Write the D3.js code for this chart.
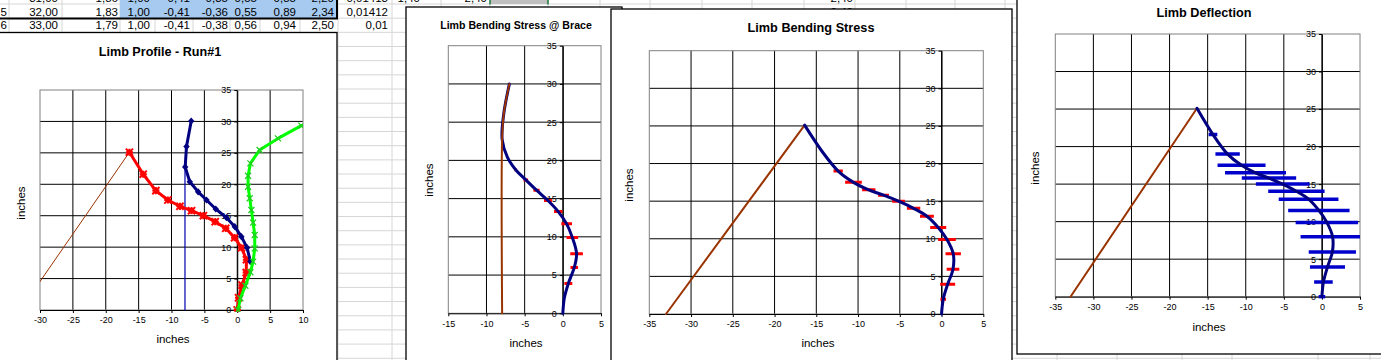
<!DOCTYPE html>
<html><head><meta charset="utf-8">
<script src="https://cdn.jsdelivr.net/npm/d3@7"></script>
<style>
body{margin:0;background:#fff;overflow:hidden}
svg{display:block}
text{font-family:Arial,"Liberation Sans",sans-serif}
</style></head>
<body><svg id="c" width="1381" height="360"></svg>
<script>
// ---------------- DATA ----------------
const yTicks = [0, 5, 10, 15, 20, 25, 30, 35];
const xTicksProfile = [-30, -25, -20, -15, -10, -5, 0, 5, 10];
const xTicksBrace = [-15, -10, -5, 0, 5];
const xTicksWide = [-35, -30, -25, -20, -15, -10, -5, 0, 5];

// limb at full draw (red in profile, navy curve in stress/deflection)
const limbY = [0, 1.95, 3.95, 5.95, 8.0, 9.9, 11.5, 13.0, 14.05, 15.0, 15.8, 16.5, 17.5, 19.0, 21.6, 25.1];
const limbX = [0, 0.2, 0.73, 1.37, 1.4, 0.65, -0.4, -1.75, -3.35, -5.15, -6.95, -8.72, -10.55, -12.38, -14.3, -16.4];
// limb at brace height
const bracedY = [0, 2, 3.9, 6, 7.8, 9.9, 11.7, 13.3, 14.75, 16.1, 17.45, 18.75, 20.4, 22.75, 26, 30];
const bracedX = [0, 0.2, 0.72, 1.5, 1.8, 1.25, 0.5, -0.6, -1.95, -3.45, -4.85, -6.15, -7.25, -7.95, -7.75, -7.0];
// braced limb as plotted in the profile chart (from the contact point up)
const profileBracedY = [7.7, 9.92, 11.67, 13.26, 14.7, 16.07, 17.5, 18.8, 20.4, 22.75, 26.0, 30.07];
const profileBracedX = [2.0, 1.49, 0.63, -0.38, -1.65, -3.27, -4.68, -5.95, -7.22, -7.92, -7.72, -7.0];
// unbraced limb
const unbracedY = [0, 1.86, 3.87, 6.0, 7.69, 9.81, 11.93, 13.9, 15.9, 17.77, 19.6, 21.37, 23.33, 25.45, 27.3, 29.33];
const unbracedX = [0.13, 0.48, 1.24, 2.0, 2.41, 2.66, 2.66, 2.41, 2.15, 1.9, 1.65, 1.65, 2.0, 3.4, 6.2, 9.75];
// string
const stringX = [-33, -16.4];
const stringY = [0, 25.1];
// brace line
const braceX = [-7.95, -7.95];
const braceY = [0, 22.75];
const braceStringX = [-7.95, -7.95, -7.75, -7.0];
const braceStringY = [0, 22.75, 26, 30];
// half widths of bars
const stressBrace = [0, 0, 0.52, 0.5, 0.83, 0.76, 0.7, 0.55, 0.52, 0.4, 0.3, 0.15, 0, 0, 0, 0];
const stressLimb = [0, 0.34, 0.9, 0.76, 0.92, 1.06, 0.96, 0.83, 0.8, 0.76, 0.65, 0.8, 1.0, 0.56, 0, 0];
const deflection = [0.43, 1.22, 2.3, 3.1, 4.2, 4.1, 4.03, 3.92, 3.7, 3.52, 3.57, 4.0, 3.15, 1.6, 0.57, 0];

// spreadsheet cells
const sheetCols = [9, 62, 120, 155, 193, 230, 260, 300, 338, 392, 441, 490, 548, 600, 650, 702, 752, 804, 855, 906, 955, 1005, 1057, 1117, 1182, 1232, 1318, 1370];
const row4 = ["31,00", "1,86", "1,00", "-0,41", "-0,35", "0,55", "0,85", "2,20", "0,01413"];
const row5 = ["32,00", "1,83", "1,00", "-0,41", "-0,36", "0,55", "0,89", "2,34", "0,01412"];
const row6 = ["33,00", "1,79", "1,00", "-0,41", "-0,38", "0,56", "0,94", "2,50", "0,01"];
const cellRight = [58, 118, 150, 190, 228, 257, 296, 334, 388];

// ---------------- DRAW ----------------
const svg = d3.select('#c');
const sheet = svg.append('g');
const gridC = '#d6d6d6';
for (let yy = 4; yy < 362; yy += 14.17) {
  sheet.append('line').attr('x1', 0).attr('x2', 1381).attr('y1', yy).attr('y2', yy).attr('stroke', gridC);
}
sheetCols.forEach(cx => sheet.append('line').attr('x1', cx).attr('x2', cx).attr('y1', 0).attr('y2', 360).attr('stroke', gridC));
sheet.append('rect').attr('x', 120).attr('y', 0).attr('width', 217).attr('height', 18.3).attr('fill', '#a6caf0');
sheet.append('rect').attr('x', 490).attr('y', 0).attr('width', 58).attr('height', 4).attr('fill', '#c0c0c0');
[490, 548].forEach(cx => sheet.append('line').attr('x1', cx).attr('x2', cx).attr('y1', 0).attr('y2', 4.5).attr('stroke', '#1f7a3a').attr('stroke-width', 1.5));
function rowText(vals, base) {
  vals.forEach((v, i) => sheet.append('text').attr('x', cellRight[i]).attr('y', base).attr('text-anchor', 'end')
    .attr('font-size', 11.5).attr('fill', '#000').text(v));
}
rowText(row4, 1.5); rowText(row5, 16.3); rowText(row6, 29);
sheet.append('text').attr('x', 7).attr('y', 16.3).attr('text-anchor', 'end').attr('font-size', 11.5).text('5');
sheet.append('text').attr('x', 7).attr('y', 29).attr('text-anchor', 'end').attr('font-size', 11.5).text('6');
[["1,40", 420], ["2,40", 487], ["2,40", 853]].forEach(d => sheet.append('text').attr('x', d[1]).attr('y', 1.5).attr('text-anchor', 'end').attr('font-size', 11.5).text(d[0]));
sheet.append('text').attr('x', 853).attr('y', 16.3).attr('text-anchor', 'end').attr('font-size', 11.5).text('2,40');
sheet.append('line').attr('x1', 0).attr('x2', 338).attr('y1', 18.5).attr('y2', 18.5).attr('stroke', '#000').attr('stroke-width', 2);
sheet.append('line').attr('x1', 337).attr('x2', 337).attr('y1', 0).attr('y2', 18.5).attr('stroke', '#000').attr('stroke-width', 2);

let clipN = 0;
function chart(cfg) {
  const g = svg.append('g');
  g.append('rect').attr('x', cfg.box[0]).attr('y', cfg.box[1]).attr('width', cfg.box[2]).attr('height', cfg.box[3])
    .attr('fill', '#fff').attr('stroke', '#000').attr('stroke-width', 1.3);
  const x = d3.scaleLinear().domain(cfg.xd).range([cfg.pl, cfg.pr]);
  const y = d3.scaleLinear().domain([0, 35]).range([cfg.pb, cfg.pt]);
  const gx = cfg.xt.filter(v => v > cfg.xd[0] && v < cfg.xd[1]);
  const gy = yTicks.filter(v => v > 0 && v < 35);
  g.append('g').selectAll('line').data(gx).join('line')
    .attr('x1', d => x(d)).attr('x2', d => x(d)).attr('y1', cfg.pt).attr('y2', cfg.pb).attr('stroke', '#000');
  g.append('g').selectAll('line').data(gy).join('line')
    .attr('y1', d => y(d)).attr('y2', d => y(d)).attr('x1', cfg.pl).attr('x2', cfg.pr).attr('stroke', '#000');
  g.append('rect').attr('x', cfg.pl).attr('y', cfg.pt).attr('width', cfg.pr - cfg.pl).attr('height', cfg.pb - cfg.pt)
    .attr('fill', 'none').attr('stroke', '#808080');
  const ax = g.append('g').attr('transform', `translate(0,${cfg.pb})`)
    .call(d3.axisBottom(x).tickValues(cfg.xt).tickFormat(d => String(d)).tickSize(3).tickSizeOuter(0).tickPadding(4));
  const ay = g.append('g').attr('transform', `translate(${x(0)},0)`)
    .call(d3.axisLeft(y).tickValues(yTicks).tickFormat(d => String(d)).tickSize(3).tickSizeOuter(0).tickPadding(3));
  [ax, ay].forEach(a => {
    a.select('.domain').attr('stroke', '#000');
    a.selectAll('line').attr('stroke', '#000');
    a.selectAll('text').attr('fill', '#000').attr('font-size', 9).attr('font-family', 'Arial, "Liberation Sans", sans-serif');
  });
  g.append('text').attr('x', cfg.title[1]).attr('y', cfg.title[2]).attr('text-anchor', 'middle')
    .attr('font-weight', 'bold').attr('font-size', cfg.title[3]).text(cfg.title[0]);
  g.append('text').attr('x', cfg.xTitle[0]).attr('y', cfg.xTitle[1]).attr('dy', '0.35em').attr('text-anchor', 'middle')
    .attr('font-size', 11.5).text('inches');
  g.append('text').attr('transform', `translate(${cfg.yTitle[0]},${cfg.yTitle[1]}) rotate(-90)`).attr('dy', '0.35em')
    .attr('text-anchor', 'middle').attr('font-size', 11.5).text('inches');
  const id = 'clip' + (clipN++);
  g.append('clipPath').attr('id', id).append('rect').attr('x', cfg.pl).attr('y', cfg.pt - 4)
    .attr('width', cfg.pr - cfg.pl).attr('height', cfg.pb - cfg.pt + 6);
  const p = g.append('g').attr('clip-path', `url(#${id})`);
  return { p, x, y };
}

function pts(xs, ys) { return xs.map((v, i) => [v, ys[i]]); }
function drawLine(c, data, color, w, smooth) {
  const ln = d3.line().x(d => c.x(d[0])).y(d => c.y(d[1]));
  if (smooth) ln.curve(d3.curveCatmullRom.alpha(0.5));
  c.p.append('path').attr('d', ln(data)).attr('fill', 'none').attr('stroke', color)
    .attr('stroke-width', w).attr('stroke-linejoin', 'round').attr('stroke-linecap', 'round');
}
function drawBars(c, xs, ys, hw, color, w) {
  const data = xs.map((v, i) => ({ c: v, y: ys[i], h: hw[i] })).filter(d => d.h > 0);
  c.p.append('g').selectAll('line').data(data).join('line')
    .attr('x1', d => c.x(d.c - d.h)).attr('x2', d => c.x(d.c + d.h))
    .attr('y1', d => c.y(d.y)).attr('y2', d => c.y(d.y))
    .attr('stroke', color).attr('stroke-width', w);
}
function markers(c, data, kind, color) {
  const g = c.p.append('g');
  data.forEach(d => {
    const px = c.x(d[0]), py = c.y(d[1]);
    if (kind === 'diamond') {
      g.append('path').attr('d', `M${px},${py - 3.6}L${px + 3.2},${py}L${px},${py + 3.6}L${px - 3.2},${py}Z`).attr('fill', color);
    } else if (kind === 'star') {
      const r = 3.6;
      g.append('path').attr('d', `M${px - r},${py - r}L${px + r},${py + r}M${px - r},${py + r}L${px + r},${py - r}M${px},${py - r}L${px},${py + r}M${px - r},${py}L${px + r},${py}`)
        .attr('stroke', color).attr('stroke-width', 2);
    } else {
      const r = 3;
      g.append('path').attr('d', `M${px - r},${py - r}L${px + r},${py + r}M${px - r},${py + r}L${px + r},${py - r}`)
        .attr('stroke', color).attr('stroke-width', 1.3);
    }
  });
}

// Chart 1: Limb Profile
const c1 = chart({
  box: [-5, 32.5, 342, 340], pl: 40, pr: 303, pt: 90, pb: 310, xd: [-30, 10], xt: xTicksProfile,
  title: ['Limb Profile - Run#1', 160, 56, 12.6], xTitle: [173, 339], yTitle: [21, 203]
});
drawLine(c1, pts(stringX, stringY), '#993300', 1, false);
drawLine(c1, pts(braceX, braceY), '#0000b0', 1.2, false);
drawLine(c1, pts(limbX, limbY), '#ff0000', 3, false);
markers(c1, pts(limbX, limbY), 'star', '#ff0000');
drawLine(c1, pts(profileBracedX, profileBracedY), '#000080', 3, false);
markers(c1, pts(profileBracedX, profileBracedY), 'diamond', '#000080');
drawLine(c1, pts(unbracedX, unbracedY), '#00ff00', 3, false);
markers(c1, pts(unbracedX, unbracedY), 'x', '#22cc22');

// Chart 2: Limb Bending Stress @ Brace
const c2 = chart({
  box: [406, 7, 216, 360], pl: 448.3, pr: 601, pt: 45.7, pb: 313.3, xd: [-15, 5], xt: xTicksBrace,
  title: ['Limb Bending Stress @ Brace', 516, 29, 10.6], xTitle: [526, 343], yTitle: [429, 180]
});
drawBars(c2, bracedX, bracedY, stressBrace, '#ff0000', 3);
drawLine(c2, pts(bracedX, bracedY), '#000080', 3, true);
drawLine(c2, pts(braceStringX, braceStringY), '#993300', 2, true);

// Chart 3: Limb Bending Stress
const c3 = chart({
  box: [611, 9, 401, 360], pl: 649.3, pr: 983.3, pt: 50.7, pb: 314, xd: [-35, 5], xt: xTicksWide,
  title: ['Limb Bending Stress', 811, 32, 12.7], xTitle: [818, 343], yTitle: [629, 185]
});
drawLine(c3, pts(stringX, stringY), '#993300', 2, false);
drawBars(c3, limbX, limbY, stressLimb, '#ff0000', 3);
drawLine(c3, pts(limbX, limbY), '#000080', 3, true);

// Chart 4: Limb Deflection
const c4 = chart({
  box: [1017, -10, 380, 364], pl: 1055.3, pr: 1360, pt: 34, pb: 296.7, xd: [-35, 5], xt: xTicksWide,
  title: ['Limb Deflection', 1204, 16.5, 12.7], xTitle: [1209, 327], yTitle: [1035, 168]
});
drawLine(c4, pts(stringX, stringY), '#993300', 2, false);
drawBars(c4, limbX, limbY, deflection, '#0000cc', 3.5);
drawLine(c4, pts(limbX, limbY), '#000080', 3, true);
</script>
</body></html>
